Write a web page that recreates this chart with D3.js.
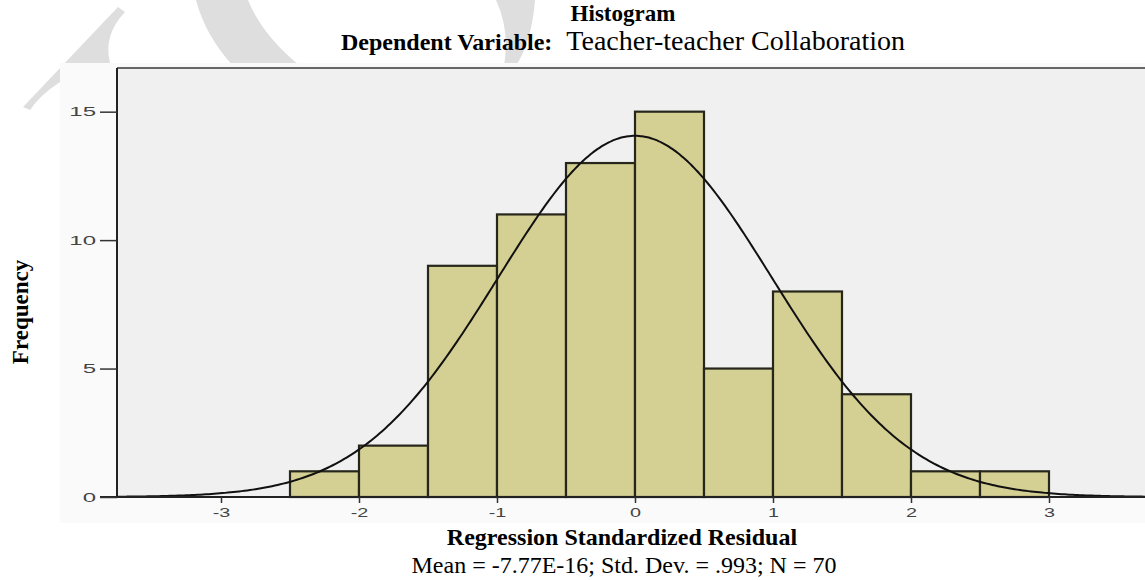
<!DOCTYPE html>
<html>
<head>
<meta charset="utf-8">
<script src="https://cdn.jsdelivr.net/npm/d3@7"></script>
<style>
  html, body { margin: 0; padding: 0; background: #ffffff; }
  svg { display: block; }
</style>
</head>
<body>
<svg id="chart" width="1145" height="580"></svg>
<script>
// ---- data ----
const binStarts = [-2.5, -2.0, -1.5, -1.0, -0.5, 0.0, 0.5, 1.0, 1.5, 2.0, 2.5];
const binWidth = 0.5;
const frequencies = [1, 2, 9, 11, 13, 15, 5, 8, 4, 1, 1];
const xTickValues = [-3, -2, -1, 0, 1, 2, 3];
const yTickValues = [0, 5, 10, 15];
const statMean = -7.77e-16;
const statSD = 0.993;
const statN = 70;
const titleText = "Histogram";
const subtitleBold = "Dependent Variable:";
const subtitleRegular = "Teacher-teacher Collaboration";
const xLabel = "Regression Standardized Residual";
const statsLabel = "Mean = -7.77E-16; Std. Dev. = .993; N = 70";
const yLabel = "Frequency";

// ---- layout ----
const svg = d3.select("#chart");
const plot = { left: 117, top: 68, bottom: 497, right: 1145 };

const x = d3.scaleLinear().domain([-3.75, 3.75]).range([117.5, 1152.5]);
const y = d3.scaleLinear().domain([0, 16.7]).range([plot.bottom, plot.top]);

// watermark (decorative)
const wm = svg.append("g").attr("fill", "#dedede");
wm.append("path").attr("d", "M23,107 L118,7 L125,12 Q103,35 110,63 L60,63 L60,82 Q40,95 30,110 Z");
wm.append("path").attr("d", "M196,0 L248,0 Q262,35 300,66 L233,66 Q205,35 196,0 Z");
wm.append("path").attr("d", "M496,0 L535,0 Q532,40 516,66 L504,66 Q510,30 496,0 Z");

// outer chart panel
svg.append("rect").attr("x", 60).attr("y", 63).attr("width", 1085).attr("height", 460)
  .attr("fill", "#fafafa");

// plot background
svg.append("rect").attr("x", plot.left).attr("y", plot.top)
  .attr("width", plot.right - plot.left).attr("height", plot.bottom - plot.top)
  .attr("fill", "#f0f0f0");

svg.append("defs").append("clipPath").attr("id", "clip")
  .append("rect").attr("x", plot.left).attr("y", plot.top - 2)
  .attr("width", plot.right - plot.left).attr("height", plot.bottom - plot.top + 2);

// bars
svg.append("g").selectAll("rect").data(binStarts).join("rect")
  .attr("x", (d) => x(d))
  .attr("y", (d, i) => y(frequencies[i]))
  .attr("width", (d) => x(d + binWidth) - x(d))
  .attr("height", (d, i) => y(0) - y(frequencies[i]))
  .attr("fill", "#d4cf93")
  .attr("stroke", "#26261a")
  .attr("stroke-width", 2.2);

// normal curve
const pdf = (v) => statN * binWidth * Math.exp(-0.5 * Math.pow((v - statMean) / statSD, 2)) / (statSD * Math.sqrt(2 * Math.PI));
const curveXs = d3.range(-3.75, 3.76, 0.02);
svg.append("path")
  .attr("clip-path", "url(#clip)")
  .attr("d", d3.line().x((d) => x(d)).y((d) => y(pdf(d))).curve(d3.curveBasis)(curveXs))
  .attr("fill", "none").attr("stroke", "#111").attr("stroke-width", 2);

// top border
svg.append("line").attr("x1", plot.left).attr("x2", plot.right)
  .attr("y1", plot.top).attr("y2", plot.top)
  .attr("stroke", "#666").attr("stroke-width", 2);

// axes
const xAxis = svg.append("g").attr("transform", `translate(0,${plot.bottom})`)
  .call(d3.axisBottom(x).tickValues(xTickValues).tickSize(6).tickSizeOuter(0).tickFormat(d3.format("d")));
xAxis.select(".domain").attr("stroke", "#222").attr("stroke-width", 2)
  .attr("d", `M100,0H${plot.right}`);
xAxis.selectAll(".tick line").attr("stroke", "#333").attr("stroke-width", 1.5);
xAxis.selectAll(".tick text").each(function () {
  d3.select(this).attr("y", 0).attr("dy", null)
    .attr("transform", "translate(0,20) scale(1.65,1)")
    .attr("font-family", "Liberation Sans, Arial, sans-serif")
    .attr("font-size", 12).attr("fill", "#444").text(this.textContent.replace("−", "-"));
});

const yAxis = svg.append("g").attr("transform", `translate(${plot.left},0)`)
  .call(d3.axisLeft(y).tickValues(yTickValues).tickSize(17).tickSizeOuter(0).tickFormat(d3.format("d")));
yAxis.select(".domain").attr("stroke", "#222").attr("stroke-width", 2)
  .attr("d", `M0,${plot.bottom}V${plot.top}`);
yAxis.selectAll(".tick line").attr("stroke", "#333").attr("stroke-width", 1.5);
yAxis.selectAll(".tick text").each(function () {
  d3.select(this).attr("x", 0).attr("dy", "0.35em")
    .attr("transform", "translate(-21,0) scale(2,1)")
    .attr("font-family", "Liberation Sans, Arial, sans-serif")
    .attr("font-size", 12).attr("fill", "#444");
});

// titles
const serif = "Liberation Serif, Times New Roman, serif";
svg.append("text").attr("x", 623).attr("y", 21).attr("text-anchor", "middle")
  .attr("font-family", serif).attr("font-weight", "bold").attr("font-size", 23)
  .text(titleText);
const sub = svg.append("text").attr("x", 0).attr("y", 50).attr("text-anchor", "start")
  .attr("font-family", serif);
sub.append("tspan").attr("font-weight", "bold").attr("font-size", 24).text(subtitleBold);
sub.append("tspan").attr("font-size", 28).attr("dx", 14).text(subtitleRegular);
const subW = sub.node().getComputedTextLength() + 14;
sub.attr("x", 623 - subW / 2);

svg.append("text").attr("x", 622).attr("y", 545).attr("text-anchor", "middle")
  .attr("font-family", serif).attr("font-weight", "bold").attr("font-size", 24)
  .text(xLabel);
svg.append("text").attr("x", 624).attr("y", 573).attr("text-anchor", "middle")
  .attr("font-family", serif).attr("font-size", 24)
  .text(statsLabel);

svg.append("text").attr("transform", "translate(28,312) rotate(-90)").attr("text-anchor", "middle")
  .attr("font-family", serif).attr("font-weight", "bold").attr("font-size", 23)
  .text(yLabel);
</script>
</body>
</html>
